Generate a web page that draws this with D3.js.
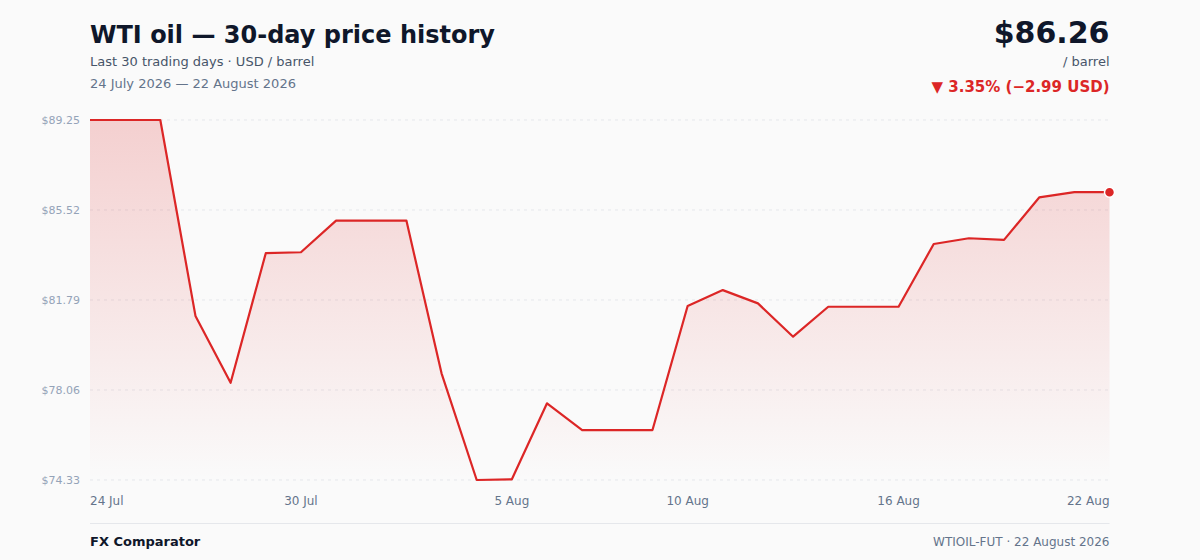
<!DOCTYPE html>
<html><head><meta charset="utf-8">
<script src="https://cdn.jsdelivr.net/npm/d3@7"></script>
<style>
html,body{margin:0;padding:0;background:#fafafa;}
svg{display:block;font-family:"DejaVu Sans",sans-serif;}
</style></head>
<body><svg id="chart" width="1200" height="560"></svg>
<script>
const dates = ["24 Jul","25 Jul","26 Jul","27 Jul","28 Jul","29 Jul","30 Jul","31 Jul","1 Aug","2 Aug","3 Aug","4 Aug","5 Aug","6 Aug","7 Aug","8 Aug","9 Aug","10 Aug","11 Aug","12 Aug","13 Aug","14 Aug","15 Aug","16 Aug","17 Aug","18 Aug","19 Aug","20 Aug","21 Aug","22 Aug"];
const prices = [89.25,89.25,89.25,81.13,78.36,83.73,83.77,85.08,85.08,85.08,78.75,74.33,74.36,77.51,76.40,76.40,76.40,81.54,82.20,81.65,80.27,81.51,81.51,81.51,84.11,84.35,84.28,86.04,86.26,86.26];
const yTicks = [74.33,78.06,81.79,85.52,89.25];
const xTickIdx = [0,6,12,17,23,29];
const titleText = "WTI oil — 30-day price history";
const subtitleText = "Last 30 trading days · USD / barrel";
const rangeText = "24 July 2026 — 22 August 2026";
const lastPriceText = "$86.26";
const unitText = "/ barrel";
const changeText = "▼ 3.35% (−2.99 USD)";
const brandText = "FX Comparator";
const sourceText = "WTIOIL-FUT · 22 August 2026";

const svg = d3.select("#chart");
const L = 90, R = 1109.5, T = 120, B = 480;
const red = "#dc2626";

const x = d3.scaleLinear().domain([0, prices.length - 1]).range([L, R]);
const y = d3.scaleLinear().domain([d3.min(prices), d3.max(prices)]).range([B, T]);

const defs = svg.append("defs");
const grad = defs.append("linearGradient").attr("id","g").attr("x1",0).attr("x2",0).attr("y1",0).attr("y2",1);
grad.append("stop").attr("offset","0%").attr("stop-color",red).attr("stop-opacity",0.2);
grad.append("stop").attr("offset","100%").attr("stop-color",red).attr("stop-opacity",0.0);

// grid
svg.append("g").selectAll("line").data(yTicks).join("line")
  .attr("x1",L).attr("x2",R).attr("y1",d=>y(d)).attr("y2",d=>y(d))
  .attr("stroke","#e5e7eb").attr("stroke-dasharray","3,4").attr("stroke-width",1);
svg.append("g").selectAll("text").data(yTicks).join("text")
  .attr("x",80).attr("y",d=>y(d)).attr("dy","0.35em").attr("text-anchor","end")
  .attr("font-size",11).attr("fill","#94a3b8").text(d=>"$"+d.toFixed(2));

// area + line
const area = d3.area().x((d,i)=>x(i)).y0(B).y1(d=>y(d));
const line = d3.line().x((d,i)=>x(i)).y(d=>y(d));
svg.append("path").datum(prices).attr("d",area).attr("fill","url(#g)");
svg.append("path").datum(prices).attr("d",line).attr("fill","none").attr("stroke",red).attr("stroke-width",2.2).attr("stroke-linejoin","round");
const li = prices.length - 1;
svg.append("circle").attr("cx",x(li)).attr("cy",y(prices[li])).attr("r",5).attr("fill",red).attr("stroke","#fff").attr("stroke-width",1.5);

// x labels
svg.append("g").selectAll("text").data(xTickIdx).join("text")
  .attr("x",i=>x(i)).attr("y",505)
  .attr("text-anchor",(i,k)=>k===0?"start":(k===xTickIdx.length-1?"end":"middle"))
  .attr("font-size",12).attr("fill","#64748b").text(i=>dates[i]);

// header
svg.append("text").attr("x",L).attr("y",43).attr("font-size",24).attr("font-weight","bold").attr("fill","#0f172a").text(titleText);
svg.append("text").attr("x",L).attr("y",66).attr("font-size",13).attr("fill","#475569").text(subtitleText);
svg.append("text").attr("x",L).attr("y",88).attr("font-size",13).attr("fill","#64748b").text(rangeText);
svg.append("text").attr("x",R).attr("y",43).attr("text-anchor","end").attr("font-size",30).attr("font-weight","bold").attr("fill","#0f172a").text(lastPriceText);
svg.append("text").attr("x",R).attr("y",66).attr("text-anchor","end").attr("font-size",13).attr("fill","#475569").text(unitText);
svg.append("text").attr("x",R).attr("y",92).attr("text-anchor","end").attr("font-size",15).attr("font-weight","bold").attr("fill",red).text(changeText);

// footer
svg.append("line").attr("x1",L).attr("x2",R).attr("y1",523.5).attr("y2",523.5).attr("stroke","#e5e7eb");
svg.append("text").attr("x",L).attr("y",546).attr("font-size",13).attr("font-weight","bold").attr("fill","#0f172a").text(brandText);
svg.append("text").attr("x",R).attr("y",546).attr("text-anchor","end").attr("font-size",12).attr("fill","#64748b").text(sourceText);
</script></body></html>
